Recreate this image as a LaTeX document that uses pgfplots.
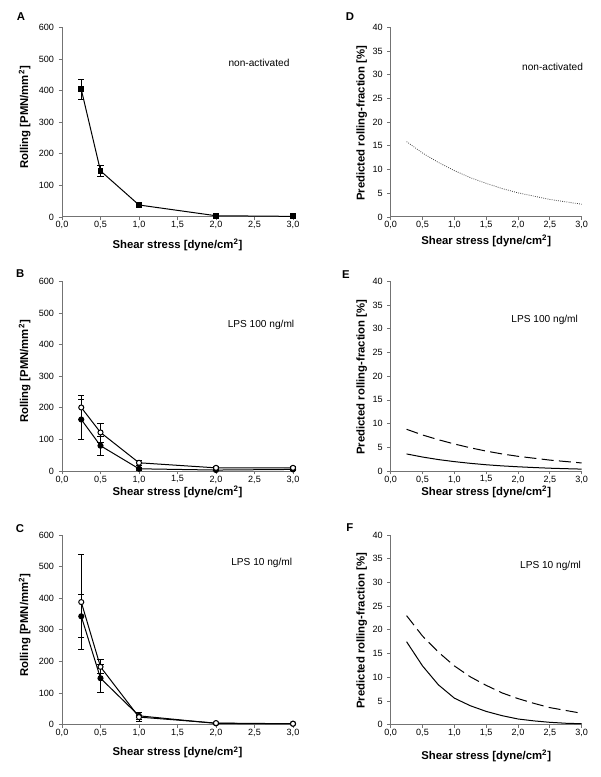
\documentclass[border=0pt]{standalone}
\usepackage{fontspec}
\setmainfont{Liberation Sans}
\usepackage{pgfplots}
\pgfplotsset{compat=1.18}

\pgfplotsset{
  base/.style={
    scale only axis, height=142.2pt, anchor=south west,
    xmin=0, xmax=3, xtick={0,0.5,1,1.5,2,2.5,3},
    axis x line*=bottom, axis y line*=left,
    axis line style={black!55, line width=0.75pt},
    tick style={black!55, line width=0.6pt},
    tick align=outside, major tick length=2.5pt,
    tick label style={font=\fontsize{6.8}{8}\selectfont},
    label style={font=\bfseries\fontsize{8.5}{10}\selectfont},
    xticklabel style={inner sep=0.8pt, /pgf/number format/.cd, fixed, fixed zerofill, precision=1, use comma, assume math mode=true},
    yticklabel style={/pgf/number format/.cd, assume math mode=true},
    xlabel={Shear stress [dyne/cm\textsuperscript{2}]},
    clip=false, enlargelimits=false,
  },
  leftp/.style={base, width=173.25pt, ymin=0, ymax=600, ytick={0,100,...,600},
    ylabel={Rolling [PMN/mm\textsuperscript{2}]},
    ylabel style={at={(axis description cs:-0.162,0.525)}, anchor=center}},
  rightp/.style={base, width=143.25pt, ymin=0, ymax=40, ytick={0,5,...,40},
    ylabel={Predicted rolling-fraction [\%]},
    ylabel style={at={(axis description cs:-0.152,0.495)}, anchor=center}},
  errs/.style={error bars/.cd, y dir=both, y explicit,
    error bar style={line width=0.6pt, black},
    error mark options={rotate=90, mark size=2.3pt, line width=0.6pt, black}},
  sq/.style={black, line width=0.75pt, mark=square*, mark size=1.8pt, mark options={solid, fill=black}},
  fc/.style={black, line width=0.75pt, mark=*, mark size=1.9pt, mark options={solid, fill=black}},
  oc/.style={black, line width=0.75pt, mark=*, mark size=1.9pt, mark options={solid, fill=white}},
  dsh/.style={black, line width=0.75pt, dash pattern=on 9pt off 4pt},
  sol/.style={black, line width=0.75pt},
}

\begin{document}
\begin{tikzpicture}
\useasboundingbox (0,0) rectangle (450pt,-582.75pt);

% ---------- A ----------
\begin{axis}[leftp, at={(46.5pt,-162.75pt)},
  xlabel style={at={(axis description cs:0.5,-0.146)}, anchor=center}]
\addplot[sq, errs] coordinates {
  (0.25,404) +- (0,31)
  (0.5,146) +- (0,17)
  (1,38) +- (0,7)
  (2,4) +- (0,2)
  (3,2) +- (0,1)
};
\end{axis}

% ---------- B ----------
\begin{axis}[leftp, at={(46.5pt,-353.25pt)},
  xlabel style={at={(axis description cs:0.5,-0.112)}, anchor=center}]
\addplot[fc, errs] coordinates {
  (0.25,163) +- (0,64)
  (0.5,80) +- (0,30)
  (1,7) +- (0,4)
  (2,3) +- (0,1)
  (3,5) +- (0,2)
};
\addplot[oc, errs] coordinates {
  (0.25,201) +- (0,38)
  (0.5,122) +- (0,30)
  (1,26) +- (0,8)
  (2,10) +- (0,3)
  (3,10) +- (0,3)
};
\end{axis}

% ---------- C ----------
\begin{axis}[leftp, at={(46.5pt,-543.5pt)},
  xlabel style={at={(axis description cs:0.5,-0.146)}, anchor=center}]
\addplot[fc, errs] coordinates {
  (0.25,343) +- (0,68)
  (0.5,147) +- (0,44)
  (1,28) +- (0,10)
  (2,4) +- (0,2)
  (3,3) +- (0,1)
};
\addplot[oc, errs] coordinates {
  (0.25,388) +- (0,150)
  (0.5,183) +- (0,22)
  (1,24) +- (0,14)
  (2,5) +- (0,2)
  (3,3) +- (0,1)
};
\end{axis}

% ---------- D ----------
\begin{axis}[rightp, at={(293pt,-162.75pt)},
  xlabel style={at={(axis description cs:0.5,-0.125)}, anchor=center}]
\addplot[black!75, line width=0.6pt, densely dotted] coordinates {
  (0.25,15.9) (0.5,13.5) (0.75,11.5) (1,9.8) (1.25,8.3) (1.5,7.1)
  (1.75,6.0) (2,5.1) (2.25,4.4) (2.5,3.7) (2.75,3.2) (3,2.7)
};
\end{axis}

% ---------- E ----------
\begin{axis}[rightp, at={(293pt,-353.25pt)},
  xlabel style={at={(axis description cs:0.5,-0.112)}, anchor=center}]
\addplot[dsh] coordinates {
  (0.25,8.8) (0.5,7.6) (0.75,6.6) (1,5.7) (1.25,4.9) (1.5,4.2)
  (1.75,3.6) (2,3.1) (2.25,2.7) (2.5,2.3) (2.75,2.0) (3,1.7)
};
\addplot[sol] coordinates {
  (0.25,3.6) (0.5,2.95) (0.75,2.41) (1,1.98) (1.25,1.62) (1.5,1.32)
  (1.75,1.08) (2,0.89) (2.25,0.73) (2.5,0.59) (2.75,0.49) (3,0.40)
};
\end{axis}

% ---------- F ----------
\begin{axis}[rightp, at={(293pt,-543.5pt)},
  xlabel style={at={(axis description cs:0.5,-0.163)}, anchor=center}]
\addplot[dsh] coordinates {
  (0.25,23.0) (0.5,18.7) (0.75,15.3) (1,12.4) (1.25,10.1) (1.5,8.3)
  (1.75,6.7) (2,5.5) (2.25,4.5) (2.5,3.6) (2.75,3.0) (3,2.4)
};
\addplot[sol] coordinates {
  (0.25,17.5) (0.5,12.4) (0.75,8.4) (1,5.6) (1.25,4.0) (1.5,2.8)
  (1.75,1.9) (2,1.2) (2.25,0.8) (2.5,0.5) (2.75,0.3) (3,0.2)
};
\end{axis}

% ---------- annotations ----------
\begin{scope}[every node/.style={font=\fontsize{7.6}{9}\selectfont}]
\node at (194.25pt,-47.25pt) {non-activated};
\node at (414.4pt,-50.25pt) {non-activated};
\node at (195.75pt,-243.75pt) {LPS 100 ng/ml};
\node at (408.5pt,-240pt) {LPS 100 ng/ml};
\node at (196.3pt,-422pt) {LPS 10 ng/ml};
\node at (412.9pt,-424.5pt) {LPS 10 ng/ml};
\end{scope}
\begin{scope}[every node/.style={font=\bfseries\fontsize{8.5}{10}\selectfont}]
\node at (15.75pt,-12.75pt) {A};
\node at (262.5pt,-12.75pt) {D};
\node at (15.2pt,-205.5pt) {B};
\node at (259.5pt,-206.25pt) {E};
\node at (15pt,-396.2pt) {C};
\node at (262.3pt,-395.5pt) {F};
\end{scope}
\end{tikzpicture}
\end{document}
